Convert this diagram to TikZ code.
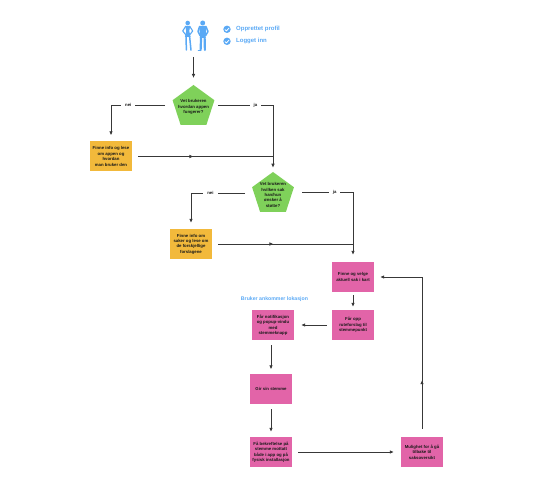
\documentclass[tikz,border=0pt]{standalone}
\usepackage{fontspec}
\setmainfont{Liberation Sans}
\usetikzlibrary{shapes.geometric,arrows.meta,decorations.markings,positioning}
\definecolor{bluetxt}{HTML}{5AA9F5}
\definecolor{pgreen}{HTML}{7FD15A}
\definecolor{yboxc}{HTML}{F2B93B}
\definecolor{pboxc}{HTML}{E264A8}
\tikzset{
  x=1pt,y=-1pt,
  txt/.style={font=\fontsize{4.3}{5.4}\selectfont\bfseries,align=center,text=black!90},
  penta/.style={regular polygon,regular polygon sides=5,minimum size=44pt,inner sep=0pt,fill=pgreen},
  ybox/.style={rectangle,fill=yboxc,minimum width=42pt,minimum height=30pt,inner sep=0pt,txt},
  pbox/.style={rectangle,fill=pboxc,minimum width=42pt,minimum height=30pt,inner sep=0pt,txt},
  conn/.style={draw=black!78,line width=0.8pt,-{Latex[length=4pt,width=3.6pt]}},
  plain/.style={draw=black!78,line width=0.8pt},
  midarrow/.style={postaction={decorate},decoration={markings,mark=at position #1 with {\arrow{Latex[length=4pt,width=3.6pt]}}}},
  lab/.style={font=\fontsize{4.3}{5}\selectfont\bfseries,fill=white,inner xsep=4pt,inner ysep=1.5pt,text=black!90},
  bluelab/.style={font=\fontsize{6}{7}\selectfont\bfseries,text=bluetxt,anchor=west,inner sep=0pt},
  bodyline/.style={draw=bluetxt,line cap=round,line join=round}
}
\begin{document}
\begin{tikzpicture}
\useasboundingbox (0,0) rectangle (540,486);
% woman
\fill[bluetxt] (187.7,23) circle (2.3);
\fill[bluetxt] (185.2,25.8) -- (190.2,25.8) -- (189.3,31) -- (190.6,37) -- (184.9,37) -- (186.2,31) -- cycle;
\draw[bodyline,line width=1.1pt] (185.6,26.4) -- (182.7,31) -- (185.6,34.6);
\draw[bodyline,line width=1.1pt] (189.8,26.4) -- (192.7,31) -- (189.9,34.6);
\draw[bodyline,line width=1.5pt] (186,36.5) -- (186.4,50);
\draw[bodyline,line width=1.5pt] (189.6,36.5) -- (191,50.2);
% man
\fill[bluetxt] (202.7,23) circle (2.5);
\fill[bluetxt] (199.2,26) -- (206.3,26) -- (205.6,38) -- (200,38) -- cycle;
\draw[bodyline,line width=1.5pt] (199.5,26.7) -- (198,31.5) -- (200,35.5);
\draw[bodyline,line width=1.5pt] (206,26.7) -- (208,31.5) -- (205.7,35.5);
\draw[bodyline,line width=2.2pt] (201.1,37) -- (200.6,50);
\draw[bodyline,line width=2.2pt] (204.6,37) -- (204.9,50);
\draw[bodyline,line width=0.9pt] (198.2,50.4) -- (201,50.4);
% check badges
\foreach \n/\yy in {c1/29.3,c2/41.3}{
  \node[circle,fill=bluetxt,minimum size=7.4pt,inner sep=0pt] (\n) at (227,\yy) {};
  \draw[white,line width=0.8pt] (224.8,\yy+0.2) -- (226.4,\yy+1.6) -- (229.2,\yy-1.4);
}
\node[bluelab] (t1) at (236,29.3) {Opprettet profil};
\node[bluelab] (t2) at (236,41.3) {Logget inn};
\coordinate (people) at (193.5,57);
% pentagons
\node[penta,label={[txt]center:Vet brukeren\\hvordan appen\\fungerer?}] (p1) at (193.5,107) {};
\node[penta,label={[txt,yshift=-1pt]center:Vet brukeren\\hvilken sak\\han/hun\\ønsker å\\støtte?}] (p2) at (273,194) {};
% boxes
\node[ybox] (y1) at (111,156.5) {Finne info og lese\\om appen og\\hvordan\\man bruker den};
\node[ybox] (y2) at (191,244) {Finne info om\\saker og lese om\\de forskjellige\\forslagene};
\node[pbox] (a) at (353,277) {Finne og velge\\aktuell sak i kart};
\node[pbox] (b) at (353,325) {Får opp\\ruteforslag til\\stemmepunkt};
\node[pbox] (c) at (273,325) {Får notifikasjon\\og popup-vindu\\med\\stemmeknapp};
\node[pbox] (d) at (271,389) {Gir sin stemme};
\node[pbox] (e) at (271,452) {Få bekreftelse på\\stemme mottatt\\både i app og på\\fysisk installasjon};
\node[pbox] (f) at (422,452) {Mulighet for å gå\\tilbake til\\saksoversikt};
\node[font=\fontsize{5.2}{6}\selectfont\bfseries,text=bluetxt,inner sep=0pt] (loc) at (274.5,299) {Bruker ankommer lokasjon};
% helper coordinates
\coordinate (p1l) at (165,105);
\coordinate (p1r) at (218,105);
\coordinate (p2l) at (245,193);
\coordinate (p2r) at (302,192);
\coordinate (corner) at (422,277);
% connectors (yshift is in page direction: positive is upward)
\draw[conn] (people) -- (193.5,78);
\draw[conn] (p1l) -| node[lab,pos=0.34] (nei1) {nei} ([yshift=6pt]y1.north);
\draw[conn] (p1r) -| node[lab,pos=0.34] (ja1) {ja} ([yshift=4pt]p2.north);
\draw[plain,midarrow=0.41] ([xshift=6pt]y1.east) -- (y1.east -| p2.north);
\draw[conn] (p2l) -| node[lab,pos=0.32] (nei2) {nei} ([yshift=6pt]y2.north);
\draw[conn] (p2r) -| node[lab,pos=0.32] (ja2) {ja} ([yshift=7pt]a.north);
\draw[plain,midarrow=0.41] ([xshift=6pt]y2.east) -- (y2.east -| a.north);
\draw[conn] ([yshift=-3pt]a.south) -- ([yshift=3pt]b.north);
\draw[conn] ([xshift=-5pt]b.west) -- ([xshift=7pt]c.east);
\draw[conn] ([yshift=-5pt]c.south -| d.north) -- ([yshift=4.5pt]d.north);
\draw[conn] ([yshift=-5pt]d.south) -- ([yshift=5pt]e.north);
\draw[conn] ([xshift=6pt]e.east) -- ([xshift=-7pt]f.west);
\draw[plain,midarrow=0.32] ([yshift=8pt]f.north) -- (corner);
\draw[conn] (corner) -- ([xshift=6pt]a.east);
\end{tikzpicture}
\end{document}
